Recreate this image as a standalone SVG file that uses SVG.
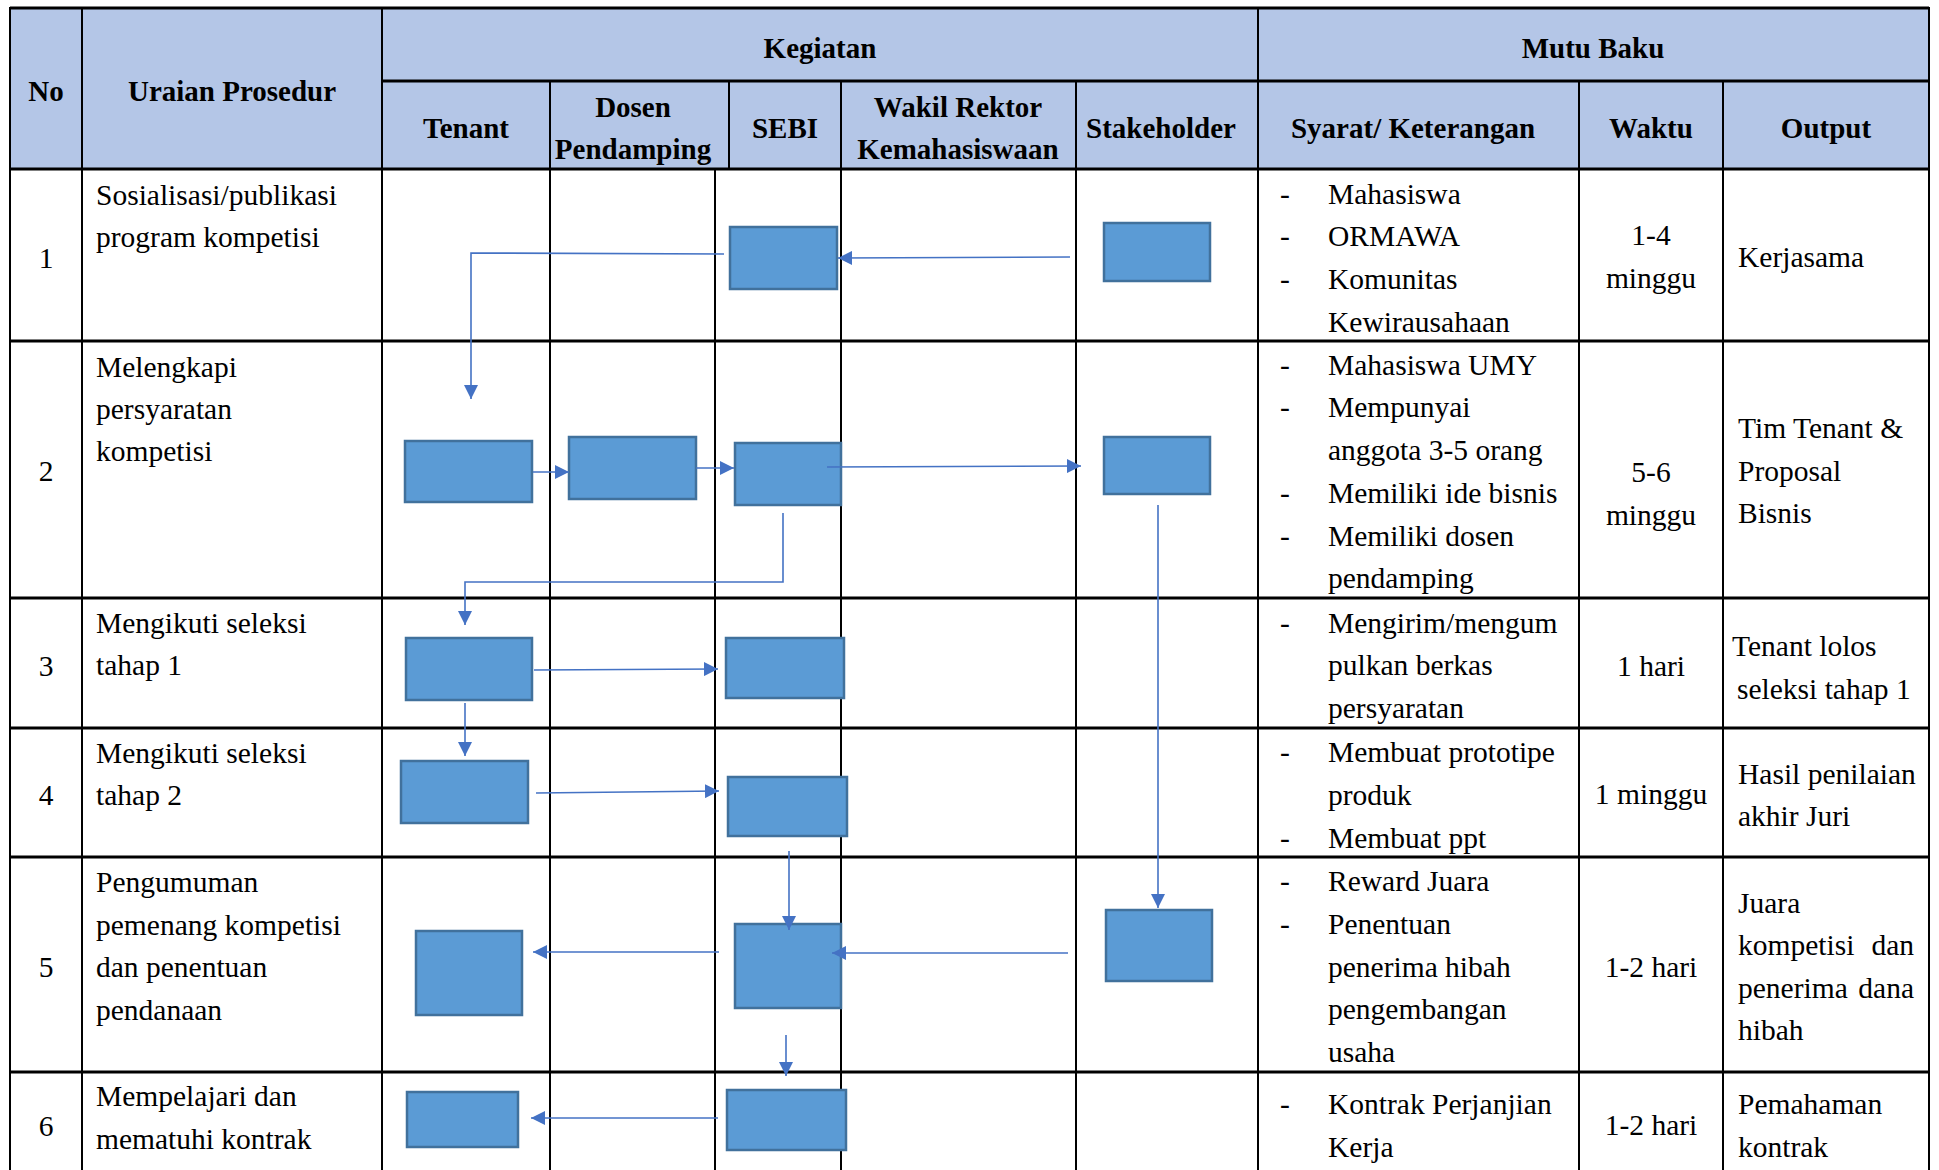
<svg xmlns="http://www.w3.org/2000/svg" width="1939" height="1170" viewBox="0 0 1939 1170">
<defs>
<marker id="ah" markerUnits="userSpaceOnUse" markerWidth="14" markerHeight="14" refX="14" refY="7" orient="auto">
<path d="M0,0 L14,7 L0,14 z" fill="#4472C4"/>
</marker>
</defs>
<rect width="1939" height="1170" fill="#fff"/>
<g id="table">
<rect x="10" y="8" width="1919" height="161" fill="#B4C6E7"/>
<g id="hlines" stroke="#000" stroke-width="3">
<line x1="10" y1="8" x2="1929" y2="8"/>
<line x1="382" y1="81" x2="1929" y2="81"/>
<line x1="10" y1="169" x2="1929" y2="169"/>
<line x1="10" y1="341" x2="1929" y2="341"/>
<line x1="10" y1="598" x2="1929" y2="598"/>
<line x1="10" y1="728" x2="1929" y2="728"/>
<line x1="10" y1="857" x2="1929" y2="857"/>
<line x1="10" y1="1072" x2="1929" y2="1072"/>
</g>
<g id="vlines" stroke="#000" stroke-width="2">
<line x1="10" y1="7" x2="10" y2="1170"/>
<line x1="82" y1="7" x2="82" y2="1170"/>
<line x1="382" y1="7" x2="382" y2="1170"/>
<line x1="550" y1="81" x2="550" y2="1170"/>
<line x1="729" y1="81" x2="729" y2="169"/>
<line x1="715" y1="169" x2="715" y2="1170"/>
<line x1="841" y1="81" x2="841" y2="1170"/>
<line x1="1076" y1="81" x2="1076" y2="1170"/>
<line x1="1258" y1="7" x2="1258" y2="1170"/>
<line x1="1579" y1="81" x2="1579" y2="1170"/>
<line x1="1723" y1="81" x2="1723" y2="1170"/>
<line x1="1929" y1="7" x2="1929" y2="1170"/>
</g>
</g>
<g id="headers" font-family="Liberation Serif, Times New Roman, serif" font-weight="bold" font-size="29" text-anchor="middle" fill="#000">
<text font-family="Liberation Serif, Times New Roman, serif" x="46" y="101">No</text>
<text font-family="Liberation Serif, Times New Roman, serif" x="232" y="101">Uraian Prosedur</text>
<text font-family="Liberation Serif, Times New Roman, serif" x="820" y="58">Kegiatan</text>
<text font-family="Liberation Serif, Times New Roman, serif" x="1593" y="58">Mutu Baku</text>
<text font-family="Liberation Serif, Times New Roman, serif" x="466" y="138">Tenant</text>
<text font-family="Liberation Serif, Times New Roman, serif" x="633" y="117">Dosen</text>
<text font-family="Liberation Serif, Times New Roman, serif" x="633" y="159">Pendamping</text>
<text font-family="Liberation Serif, Times New Roman, serif" x="785" y="138">SEBI</text>
<text font-family="Liberation Serif, Times New Roman, serif" x="958" y="117">Wakil Rektor</text>
<text font-family="Liberation Serif, Times New Roman, serif" x="958" y="159">Kemahasiswaan</text>
<text font-family="Liberation Serif, Times New Roman, serif" x="1161" y="138">Stakeholder</text>
<text font-family="Liberation Serif, Times New Roman, serif" x="1413" y="138">Syarat/ Keterangan</text>
<text font-family="Liberation Serif, Times New Roman, serif" x="1651" y="138">Waktu</text>
<text font-family="Liberation Serif, Times New Roman, serif" x="1826" y="138">Output</text>
</g>
<g id="numbers" font-family="Liberation Serif, Times New Roman, serif" font-size="29.5" text-anchor="middle" fill="#000">
<text font-family="Liberation Serif, Times New Roman, serif" x="46" y="268">1</text>
<text font-family="Liberation Serif, Times New Roman, serif" x="46" y="481">2</text>
<text font-family="Liberation Serif, Times New Roman, serif" x="46" y="676">3</text>
<text font-family="Liberation Serif, Times New Roman, serif" x="46" y="805">4</text>
<text font-family="Liberation Serif, Times New Roman, serif" x="46" y="977">5</text>
<text font-family="Liberation Serif, Times New Roman, serif" x="46" y="1136">6</text>
</g>
<g id="uraian" font-family="Liberation Serif, Times New Roman, serif" font-size="29.5" fill="#000">
<text font-family="Liberation Serif, Times New Roman, serif" x="96" y="205">Sosialisasi/publikasi</text>
<text font-family="Liberation Serif, Times New Roman, serif" x="96" y="247">program kompetisi</text>
<text font-family="Liberation Serif, Times New Roman, serif" x="96" y="377">Melengkapi</text>
<text font-family="Liberation Serif, Times New Roman, serif" x="96" y="419">persyaratan</text>
<text font-family="Liberation Serif, Times New Roman, serif" x="96" y="461">kompetisi</text>
<text font-family="Liberation Serif, Times New Roman, serif" x="96" y="633">Mengikuti seleksi</text>
<text font-family="Liberation Serif, Times New Roman, serif" x="96" y="675">tahap 1</text>
<text font-family="Liberation Serif, Times New Roman, serif" x="96" y="763">Mengikuti seleksi</text>
<text font-family="Liberation Serif, Times New Roman, serif" x="96" y="805">tahap 2</text>
<text font-family="Liberation Serif, Times New Roman, serif" x="96" y="892">Pengumuman</text>
<text font-family="Liberation Serif, Times New Roman, serif" x="96" y="935">pemenang kompetisi</text>
<text font-family="Liberation Serif, Times New Roman, serif" x="96" y="977">dan penentuan</text>
<text font-family="Liberation Serif, Times New Roman, serif" x="96" y="1020">pendanaan</text>
<text font-family="Liberation Serif, Times New Roman, serif" x="96" y="1106">Mempelajari dan</text>
<text font-family="Liberation Serif, Times New Roman, serif" x="96" y="1149">mematuhi kontrak</text>
</g>
<g id="syarat" font-family="Liberation Serif, Times New Roman, serif" font-size="29.5" fill="#000">
<text font-family="Liberation Serif, Times New Roman, serif" x="1280" y="204">-</text><text font-family="Liberation Serif, Times New Roman, serif" x="1328" y="204">Mahasiswa</text>
<text font-family="Liberation Serif, Times New Roman, serif" x="1280" y="246">-</text><text font-family="Liberation Serif, Times New Roman, serif" x="1328" y="246">ORMAWA</text>
<text font-family="Liberation Serif, Times New Roman, serif" x="1280" y="289">-</text><text font-family="Liberation Serif, Times New Roman, serif" x="1328" y="289">Komunitas</text>
<text font-family="Liberation Serif, Times New Roman, serif" x="1328" y="332">Kewirausahaan</text>
<text font-family="Liberation Serif, Times New Roman, serif" x="1280" y="375">-</text><text font-family="Liberation Serif, Times New Roman, serif" x="1328" y="375">Mahasiswa UMY</text>
<text font-family="Liberation Serif, Times New Roman, serif" x="1280" y="417">-</text><text font-family="Liberation Serif, Times New Roman, serif" x="1328" y="417">Mempunyai</text>
<text font-family="Liberation Serif, Times New Roman, serif" x="1328" y="460">anggota 3-5 orang</text>
<text font-family="Liberation Serif, Times New Roman, serif" x="1280" y="503">-</text><text font-family="Liberation Serif, Times New Roman, serif" x="1328" y="503">Memiliki ide bisnis</text>
<text font-family="Liberation Serif, Times New Roman, serif" x="1280" y="546">-</text><text font-family="Liberation Serif, Times New Roman, serif" x="1328" y="546">Memiliki dosen</text>
<text font-family="Liberation Serif, Times New Roman, serif" x="1328" y="588">pendamping</text>
<text font-family="Liberation Serif, Times New Roman, serif" x="1280" y="633">-</text><text font-family="Liberation Serif, Times New Roman, serif" x="1328" y="633">Mengirim/mengum</text>
<text font-family="Liberation Serif, Times New Roman, serif" x="1328" y="675">pulkan berkas</text>
<text font-family="Liberation Serif, Times New Roman, serif" x="1328" y="718">persyaratan</text>
<text font-family="Liberation Serif, Times New Roman, serif" x="1280" y="762">-</text><text font-family="Liberation Serif, Times New Roman, serif" x="1328" y="762">Membuat prototipe</text>
<text font-family="Liberation Serif, Times New Roman, serif" x="1328" y="805">produk</text>
<text font-family="Liberation Serif, Times New Roman, serif" x="1280" y="848">-</text><text font-family="Liberation Serif, Times New Roman, serif" x="1328" y="848">Membuat ppt</text>
<text font-family="Liberation Serif, Times New Roman, serif" x="1280" y="891">-</text><text font-family="Liberation Serif, Times New Roman, serif" x="1328" y="891">Reward Juara</text>
<text font-family="Liberation Serif, Times New Roman, serif" x="1280" y="934">-</text><text font-family="Liberation Serif, Times New Roman, serif" x="1328" y="934">Penentuan</text>
<text font-family="Liberation Serif, Times New Roman, serif" x="1328" y="977">penerima hibah</text>
<text font-family="Liberation Serif, Times New Roman, serif" x="1328" y="1019">pengembangan</text>
<text font-family="Liberation Serif, Times New Roman, serif" x="1328" y="1062">usaha</text>
<text font-family="Liberation Serif, Times New Roman, serif" x="1280" y="1114">-</text><text font-family="Liberation Serif, Times New Roman, serif" x="1328" y="1114">Kontrak Perjanjian</text>
<text font-family="Liberation Serif, Times New Roman, serif" x="1328" y="1157">Kerja</text>
</g>
<g id="waktu" font-family="Liberation Serif, Times New Roman, serif" font-size="29.5" text-anchor="middle" fill="#000">
<text font-family="Liberation Serif, Times New Roman, serif" x="1651" y="245">1-4</text>
<text font-family="Liberation Serif, Times New Roman, serif" x="1651" y="288">minggu</text>
<text font-family="Liberation Serif, Times New Roman, serif" x="1651" y="482">5-6</text>
<text font-family="Liberation Serif, Times New Roman, serif" x="1651" y="525">minggu</text>
<text font-family="Liberation Serif, Times New Roman, serif" x="1651" y="676">1 hari</text>
<text font-family="Liberation Serif, Times New Roman, serif" x="1651" y="804">1 minggu</text>
<text font-family="Liberation Serif, Times New Roman, serif" x="1651" y="977">1-2 hari</text>
<text font-family="Liberation Serif, Times New Roman, serif" x="1651" y="1135">1-2 hari</text>
</g>
<g id="output" font-family="Liberation Serif, Times New Roman, serif" font-size="29.5" fill="#000">
<text font-family="Liberation Serif, Times New Roman, serif" x="1738" y="267">Kerjasama</text>
<text font-family="Liberation Serif, Times New Roman, serif" x="1738" y="438">Tim Tenant &amp;</text>
<text font-family="Liberation Serif, Times New Roman, serif" x="1738" y="481">Proposal</text>
<text font-family="Liberation Serif, Times New Roman, serif" x="1738" y="523">Bisnis</text>
<text font-family="Liberation Serif, Times New Roman, serif" x="1732" y="656">Tenant lolos</text>
<text font-family="Liberation Serif, Times New Roman, serif" x="1737" y="699">seleksi tahap 1</text>
<text font-family="Liberation Serif, Times New Roman, serif" x="1738" y="784">Hasil penilaian</text>
<text font-family="Liberation Serif, Times New Roman, serif" x="1738" y="826">akhir Juri</text>
<text font-family="Liberation Serif, Times New Roman, serif" x="1738" y="913">Juara</text>
<text font-family="Liberation Serif, Times New Roman, serif" x="1738" y="955">kompetisi</text><text font-family="Liberation Serif, Times New Roman, serif" text-anchor="end" x="1914" y="955">dan</text>
<text font-family="Liberation Serif, Times New Roman, serif" x="1738" y="998">penerima</text><text font-family="Liberation Serif, Times New Roman, serif" text-anchor="end" x="1914" y="998">dana</text>
<text font-family="Liberation Serif, Times New Roman, serif" x="1738" y="1040">hibah</text>
<text font-family="Liberation Serif, Times New Roman, serif" x="1738" y="1114">Pemahaman</text>
<text font-family="Liberation Serif, Times New Roman, serif" x="1738" y="1157">kontrak</text>
</g>
<g id="nodes" fill="#5B9BD5" stroke="#41719C" stroke-width="2.5">
<g id="n1"><rect x="730" y="227" width="107" height="62"/></g>
<g id="n2"><rect x="1104" y="223" width="106" height="58"/></g>
<g id="n3"><rect x="405" y="441" width="127" height="61"/></g>
<g id="n4"><rect x="569" y="437" width="127" height="62"/></g>
<g id="n5"><rect x="735" y="443" width="106" height="62"/></g>
<g id="n6"><rect x="1104" y="437" width="106" height="57"/></g>
<g id="n7"><rect x="406" y="638" width="126" height="62"/></g>
<g id="n8"><rect x="726" y="638" width="118" height="60"/></g>
<g id="n9"><rect x="401" y="761" width="127" height="62"/></g>
<g id="n10"><rect x="728" y="777" width="119" height="59"/></g>
<g id="n11"><rect x="416" y="931" width="106" height="84"/></g>
<g id="n12"><rect x="735" y="924" width="106" height="84"/></g>
<g id="n13"><rect x="1106" y="910" width="106" height="71"/></g>
<g id="n14"><rect x="407" y="1092" width="111" height="55"/></g>
<g id="n15"><rect x="727" y="1090" width="119" height="60"/></g>
</g>
<g id="connectors" fill="none" stroke="#4472C4" stroke-width="1.6" marker-end="url(#ah)">
<polyline points="724,254 471,253 471,399"/>
<line x1="1070" y1="257" x2="838" y2="258"/>
<line x1="533" y1="472" x2="569" y2="472"/>
<line x1="696" y1="468" x2="734" y2="468"/>
<line x1="827" y1="467" x2="1081" y2="466"/>
<polyline points="783,513 783,582 465,582 465,625"/>
<line x1="534" y1="670" x2="718" y2="669"/>
<line x1="465" y1="703" x2="465" y2="756"/>
<line x1="536" y1="793" x2="719" y2="791"/>
<line x1="789" y1="851" x2="789" y2="930"/>
<line x1="1158" y1="505" x2="1158" y2="908"/>
<line x1="1068" y1="953" x2="832" y2="953"/>
<line x1="719" y1="952" x2="533" y2="952"/>
<line x1="786" y1="1035" x2="786" y2="1076"/>
<line x1="718" y1="1118" x2="531" y2="1118"/>
</g>
</svg>
